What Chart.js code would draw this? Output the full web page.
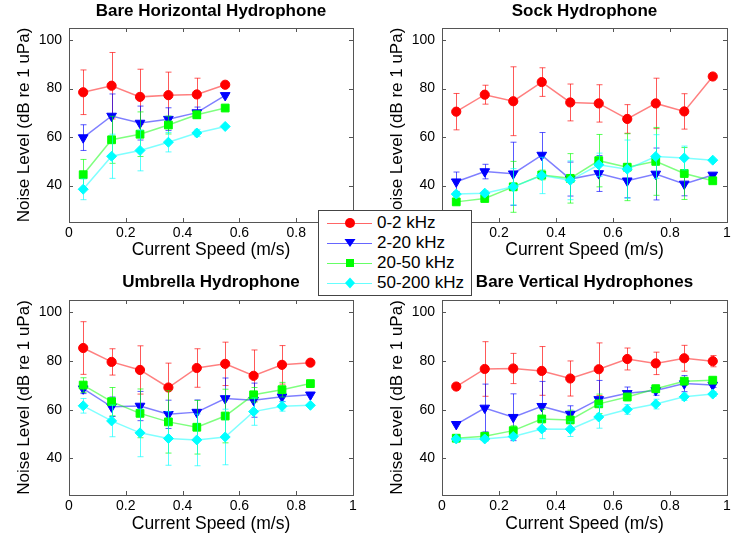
<!DOCTYPE html>
<html>
<head>
<meta charset="utf-8">
<script src="https://cdn.jsdelivr.net/npm/chart.js@4.4.1/dist/chart.umd.min.js"></script>
<style>
    body { margin: 0; background: #fff; width: 747px; height: 537px; position: relative; overflow: hidden;
           font-family: "Liberation Sans", Arial, sans-serif; }
    .pane { position: absolute; }
    #legend { position: absolute; left: 318px; top: 210px; width: 152px; height: 84px;
              border: 1px solid #444; background: #fff; z-index: 5; }
    #legend .row { position: absolute; left: 0; height: 20px; width: 152px; }
    #legend svg { position: absolute; left: 0; top: 0; }
    #legend span { position: absolute; left: 58px; top: 0; line-height: 20px; font-size: 17px; color: #000; white-space: nowrap; }
</style>
</head>
<body>
<div class="pane" style="left:0;top:0;width:373px;height:268px"><canvas id="bh"></canvas></div>
<div class="pane" style="left:373px;top:0;width:374px;height:268px"><canvas id="sk"></canvas></div>
<div class="pane" style="left:0;top:268px;width:373px;height:269px"><canvas id="um"></canvas></div>
<div class="pane" style="left:373px;top:268px;width:374px;height:269px"><canvas id="bv"></canvas></div>
<div id="legend"></div>

<script>
// frequency bands (legend labels)
const bands = ['0-2 kHz', '2-20 kHz', '20-50 kHz', '50-200 kHz'];

// axis ticks
const xTicks = [0, 0.2, 0.4, 0.6, 0.8, 1];
const yTicks = [40, 60, 80, 100];

// Bare Horizontal Hydrophone
const bhSpeed = [0.05, 0.15, 0.25, 0.35, 0.45, 0.55];
const bhLow   = [78.5, 81.2, 76.6, 77.3, 77.6, 81.6];
const bhLowE  = [9.2, 13.7, 11.4, 9.5, 6.7, 0];
const bhMid   = [59.8, 68.7, 65.8, 67.4, 70.1, 77.2];
const bhMidE  = [5.3, 9.1, 7.0, 4.7, 2.3, 0];
const bhHigh  = [44.5, 58.9, 61.2, 65.0, 69.2, 72.0];
const bhHighE = [6.3, 9.7, 9.2, 3.7, 1.5, 0];
const bhUltra = [38.5, 52.1, 54.5, 57.9, 61.7, 64.4];
const bhUltraE= [4.3, 9.1, 8.4, 4.0, 1.5, 0];

// Sock Hydrophone
const skSpeed = [0.05, 0.15, 0.25, 0.35, 0.45, 0.55, 0.65, 0.75, 0.85, 0.95];
const skLow   = [70.5, 77.5, 74.8, 82.7, 74.3, 73.9, 67.5, 73.9, 70.6, 85.0];
const skLowE  = [7.5, 3.9, 14.2, 5.9, 7.6, 7.7, 5.9, 10.4, 7.3, 0];
const skMid   = [41.6, 45.8, 44.9, 52.6, 42.7, 45.0, 42.0, 44.8, 40.7, 44.4];
const skMidE  = [4.0, 3.0, 13.0, 9.3, 7.0, 7.4, 7.0, 10.7, 4.9, 0];
const skHigh  = [33.3, 34.7, 39.5, 44.4, 43.0, 50.3, 47.6, 50.0, 45.0, 42.0];
const skHighE = [0.5, 0.5, 10.5, 2.0, 10.2, 10.8, 13.8, 14.0, 10.7, 0];
const skUltra = [36.5, 36.9, 39.5, 44.2, 42.2, 48.6, 46.8, 52.0, 51.4, 50.5];
const skUltraE= [1.0, 1.0, 7.5, 7.5, 8.0, 4.8, 12.0, 9.0, 4.9, 0];

// Umbrella Hydrophone
const umSpeed = [0.05, 0.15, 0.25, 0.35, 0.45, 0.55, 0.65, 0.75, 0.85];
const umLow   = [85.3, 79.6, 76.3, 69.1, 77.1, 78.8, 73.9, 78.4, 79.3];
const umLowE  = [10.8, 5.4, 9.9, 10.0, 7.9, 8.9, 10.6, 7.9, 0];
const umMid   = [68.6, 61.2, 61.5, 58.1, 59.0, 64.6, 63.9, 65.3, 66.1];
const umMidE  = [2.0, 4.0, 6.0, 5.8, 5.0, 8.4, 7.0, 2.0, 0];
const umHigh  = [70.1, 63.3, 58.5, 55.0, 52.8, 57.4, 66.1, 68.2, 70.7];
const umHighE = [3.0, 5.8, 10.0, 12.8, 11.0, 11.0, 3.0, 3.0, 0];
const umUltra = [61.6, 55.4, 50.5, 48.2, 47.6, 48.8, 59.2, 61.4, 61.8];
const umUltraE= [3.0, 6.5, 9.8, 11.0, 10.6, 11.4, 5.6, 2.0, 0];

// Bare Vertical Hydrophones
const bvSpeed = [0.05, 0.15, 0.25, 0.35, 0.45, 0.55, 0.65, 0.75, 0.85, 0.95];
const bvLow   = [69.5, 76.7, 76.9, 75.9, 72.8, 76.6, 80.8, 79.0, 81.1, 79.9];
const bvLowE  = [0, 11.2, 6.2, 10.0, 7.2, 10.8, 4.5, 4.6, 5.3, 2.3];
const bvMid   = [54.0, 60.7, 56.9, 61.4, 58.2, 64.2, 66.7, 67.9, 70.7, 70.1];
const bvMidE  = [0, 9.8, 9.6, 10.2, 3.4, 7.8, 2.6, 2.0, 3.3, 1.0];
const bvHigh  = [48.3, 49.1, 51.4, 56.2, 55.8, 62.4, 65.2, 68.6, 71.7, 72.1];
const bvHighE = [0, 1.0, 2.0, 4.0, 4.0, 4.0, 1.5, 1.5, 1.0, 0.5];
const bvUltra = [48.0, 48.0, 49.0, 52.1, 52.0, 57.0, 60.1, 62.3, 65.3, 66.4];
const bvUltraE= [0, 1.0, 1.0, 4.0, 3.0, 4.6, 2.0, 2.0, 1.5, 1.0];

// series styles, same order as bands
const styles = [
    { color: '255,0,0',   point: 'circle',   rotation: 0,   radius: 4.6 },
    { color: '0,0,255',   point: 'triangle', rotation: 180, radius: 5.6 },
    { color: '0,255,0',   point: 'rect',     rotation: 0,   radius: 5.5 },
    { color: '0,255,255', point: 'rectRot',  rotation: 0,   radius: 5.0 }
];

const FONT = '"Liberation Sans", Arial, sans-serif';

// error bars drawn under each series
const errorBars = {
    id: 'errorBars',
    beforeDatasetDraw(chart, args) {
        const ds = chart.data.datasets[args.index];
        if (!ds.err) return;
        const ctx = chart.ctx;
        const xs = chart.scales.x, ys = chart.scales.y;
        ctx.save();
        ctx.strokeStyle = ds.errColor;
        ctx.lineWidth = 1;
        ds.data.forEach((p, i) => {
            const e = ds.err[i];
            if (!e) return;
            const x = Math.round(xs.getPixelForValue(p.x)) + 0.5;
            const y1 = ys.getPixelForValue(p.y + e);
            const y2 = ys.getPixelForValue(p.y - e);
            ctx.beginPath();
            ctx.moveTo(x, y1); ctx.lineTo(x, y2);
            ctx.moveTo(x - 3, y1); ctx.lineTo(x + 3, y1);
            ctx.moveTo(x - 3, y2); ctx.lineTo(x + 3, y2);
            ctx.stroke();
        });
        ctx.restore();
    }
};

// matlab style box with inward ticks
const axesBox = {
    id: 'axesBox',
    beforeDatasetsDraw(chart) {
        const {ctx, chartArea: a} = chart;
        const xs = chart.scales.x, ys = chart.scales.y;
        ctx.save();
        ctx.strokeStyle = '#555';
        ctx.lineWidth = 1;
        ctx.strokeRect(Math.round(a.left) + 0.5, Math.round(a.top) + 0.5,
                       Math.round(a.right - a.left), Math.round(a.bottom - a.top));
        ctx.beginPath();
        xs.ticks.forEach(t => {
            const x = Math.round(xs.getPixelForValue(t.value)) + 0.5;
            ctx.moveTo(x, a.bottom); ctx.lineTo(x, a.bottom - 4);
            ctx.moveTo(x, a.top); ctx.lineTo(x, a.top + 4);
        });
        ys.ticks.forEach(t => {
            const y = Math.round(ys.getPixelForValue(t.value)) + 0.5;
            ctx.moveTo(a.left, y); ctx.lineTo(a.left + 4, y);
            ctx.moveTo(a.right, y); ctx.lineTo(a.right - 4, y);
        });
        ctx.stroke();
        ctx.restore();
    }
};

function makeChart(id, title, speeds, values, errs, row) {
    const top = row === 0;
    const datasets = values.map((v, k) => {
        const s = styles[k];
        return {
            label: bands[k],
            data: speeds.map((x, i) => ({ x: x, y: v[i] })),
            err: errs[k],
            errColor: 'rgba(' + s.color + ',0.65)',
            borderColor: 'rgba(' + s.color + ',0.5)',
            borderWidth: 1.5,
            pointStyle: s.point,
            pointRotation: s.rotation,
            pointRadius: s.radius,
            pointBackgroundColor: 'rgb(' + s.color + ')',
            pointBorderColor: 'rgb(' + s.color + ')',
            pointBorderWidth: 1,
            order: 4 - k,
            tension: 0
        };
    });

    return new Chart(document.getElementById(id), {
        type: 'line',
        data: { datasets: datasets },
        plugins: [errorBars, axesBox],
        options: {
            responsive: true,
            maintainAspectRatio: false,
            animation: false,
            layout: { padding: { left: 0, right: 20, top: 0, bottom: 0 } },
            plugins: {
                legend: { display: false },
                tooltip: { enabled: false },
                title: {
                    display: true,
                    text: title,
                    fullSize: false,
                    color: '#000',
                    font: { family: FONT, size: 17, weight: 'bold' },
                    padding: top ? { top: 1, bottom: 6.6 } : { top: 4, bottom: 7.6 }
                }
            },
            scales: {
                x: {
                    type: 'linear',
                    min: 0, max: 1,
                    afterBuildTicks: axis => { axis.ticks = xTicks.map(v => ({ value: v })); },
                    afterFit: scale => { scale.height = top ? 46 : 42; },
                    grid: { display: false, drawTicks: false },
                    border: { display: false },
                    ticks: {
                        color: '#000', padding: 3, font: { family: FONT, size: 14 },
                        callback: v => String(v)
                    },
                    title: {
                        display: true, text: 'Current Speed (m/s)', color: '#000',
                        font: { family: FONT, size: 17.5 },
                        padding: { top: 0, bottom: top ? 7 : 2 }
                    }
                },
                y: {
                    type: 'linear',
                    min: 25, max: 105,
                    afterBuildTicks: axis => { axis.ticks = yTicks.map(v => ({ value: v })); },
                    afterFit: scale => { scale.width = 69; },
                    grid: { display: false, drawTicks: false },
                    border: { display: false },
                    ticks: { color: '#000', padding: 7, font: { family: FONT, size: 14 } },
                    title: {
                        display: true, text: 'Noise Level (dB re 1 uPa)', color: '#000',
                        font: { family: FONT, size: 17 },
                        padding: { top: 14, bottom: 0 }
                    }
                }
            }
        }
    });
}

makeChart('bh', 'Bare Horizontal Hydrophone', bhSpeed,
    [bhLow, bhMid, bhHigh, bhUltra], [bhLowE, bhMidE, bhHighE, bhUltraE], 0);
makeChart('sk', 'Sock Hydrophone', skSpeed,
    [skLow, skMid, skHigh, skUltra], [skLowE, skMidE, skHighE, skUltraE], 0);
makeChart('um', 'Umbrella Hydrophone', umSpeed,
    [umLow, umMid, umHigh, umUltra], [umLowE, umMidE, umHighE, umUltraE], 1);
makeChart('bv', 'Bare Vertical Hydrophones', bvSpeed,
    [bvLow, bvMid, bvHigh, bvUltra], [bvLowE, bvMidE, bvHighE, bvUltraE], 1);

// shared legend box
function markerSvg(s) {
    const c = 'rgb(' + s.color + ')';
    let m;
    if (s.point === 'circle') m = '<circle cx="31" cy="10" r="5" fill="' + c + '"/>';
    else if (s.point === 'triangle') m = '<polygon points="25.5,6 36.5,6 31,14" fill="' + c + '"/>';
    else if (s.point === 'rect') m = '<rect x="27" y="6" width="8" height="8" fill="' + c + '"/>';
    else m = '<polygon points="31,4.5 36,10 31,15.5 26,10" fill="' + c + '"/>';
    return '<svg width="56" height="20"><line x1="8" y1="10.5" x2="53" y2="10.5" stroke="rgba(' +
        s.color + ',0.6)" stroke-width="1.2"/>' + m + '</svg>';
}
const legend = document.getElementById('legend');
bands.forEach((b, k) => {
    const row = document.createElement('div');
    row.className = 'row';
    row.style.top = (2 + k * 20) + 'px';
    row.innerHTML = markerSvg(styles[k]) + '<span>' + b + '</span>';
    legend.appendChild(row);
});
</script>
</body>
</html>
